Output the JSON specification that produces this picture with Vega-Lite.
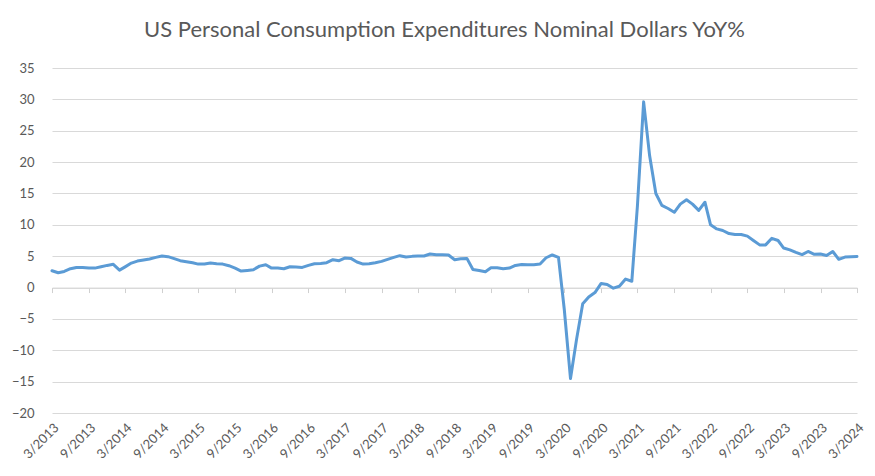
{
  "$schema": "https://vega.github.io/schema/vega-lite/v6.json",
  "width": 805,
  "height": 345,
  "autosize": {"type": "none"},
  "padding": {"left": 52, "top": 68, "right": 18, "bottom": 63},
  "background": "white",
  "title": {
    "text": "US Personal Consumption Expenditures Nominal Dollars YoY%",
    "font": "Lato",
    "fontSize": 22,
    "fontWeight": "normal",
    "color": "#595959",
    "anchor": "middle",
    "dx": -10,
    "offset": 3,
    "baseline": "alphabetic"
  },
  "config": {"view": {"stroke": null}, "font": "Lato"},
  "data": {
    "values": [
      {"month": "2013/03/01", "yoy": 2.68}, {"month": "2013/04/01", "yoy": 2.36}, {"month": "2013/05/01", "yoy": 2.57},
      {"month": "2013/06/01", "yoy": 3.0}, {"month": "2013/07/01", "yoy": 3.21}, {"month": "2013/08/01", "yoy": 3.21},
      {"month": "2013/09/01", "yoy": 3.1}, {"month": "2013/10/01", "yoy": 3.1}, {"month": "2013/11/01", "yoy": 3.32},
      {"month": "2013/12/01", "yoy": 3.53}, {"month": "2014/01/01", "yoy": 3.7}, {"month": "2014/02/01", "yoy": 2.78},
      {"month": "2014/03/01", "yoy": 3.3}, {"month": "2014/04/01", "yoy": 3.9}, {"month": "2014/05/01", "yoy": 4.22},
      {"month": "2014/06/01", "yoy": 4.39}, {"month": "2014/07/01", "yoy": 4.55}, {"month": "2014/08/01", "yoy": 4.81},
      {"month": "2014/09/01", "yoy": 5.03}, {"month": "2014/10/01", "yoy": 4.92}, {"month": "2014/11/01", "yoy": 4.6},
      {"month": "2014/12/01", "yoy": 4.28}, {"month": "2015/01/01", "yoy": 4.12}, {"month": "2015/02/01", "yoy": 3.96},
      {"month": "2015/03/01", "yoy": 3.74}, {"month": "2015/04/01", "yoy": 3.74}, {"month": "2015/05/01", "yoy": 3.9},
      {"month": "2015/06/01", "yoy": 3.8}, {"month": "2015/07/01", "yoy": 3.74}, {"month": "2015/08/01", "yoy": 3.48},
      {"month": "2015/09/01", "yoy": 3.1}, {"month": "2015/10/01", "yoy": 2.62}, {"month": "2015/11/01", "yoy": 2.73},
      {"month": "2015/12/01", "yoy": 2.84}, {"month": "2016/01/01", "yoy": 3.42}, {"month": "2016/02/01", "yoy": 3.64},
      {"month": "2016/03/01", "yoy": 3.1}, {"month": "2016/04/01", "yoy": 3.1}, {"month": "2016/05/01", "yoy": 3.0},
      {"month": "2016/06/01", "yoy": 3.32}, {"month": "2016/07/01", "yoy": 3.26}, {"month": "2016/08/01", "yoy": 3.21},
      {"month": "2016/09/01", "yoy": 3.53}, {"month": "2016/10/01", "yoy": 3.8}, {"month": "2016/11/01", "yoy": 3.85},
      {"month": "2016/12/01", "yoy": 3.96}, {"month": "2017/01/01", "yoy": 4.44}, {"month": "2017/02/01", "yoy": 4.28},
      {"month": "2017/03/01", "yoy": 4.7}, {"month": "2017/04/01", "yoy": 4.65}, {"month": "2017/05/01", "yoy": 4.07},
      {"month": "2017/06/01", "yoy": 3.74}, {"month": "2017/07/01", "yoy": 3.8}, {"month": "2017/08/01", "yoy": 3.96},
      {"month": "2017/09/01", "yoy": 4.17}, {"month": "2017/10/01", "yoy": 4.49}, {"month": "2017/11/01", "yoy": 4.81},
      {"month": "2017/12/01", "yoy": 5.08}, {"month": "2018/01/01", "yoy": 4.86}, {"month": "2018/02/01", "yoy": 4.97},
      {"month": "2018/03/01", "yoy": 5.03}, {"month": "2018/04/01", "yoy": 5.03}, {"month": "2018/05/01", "yoy": 5.35},
      {"month": "2018/06/01", "yoy": 5.24}, {"month": "2018/07/01", "yoy": 5.24}, {"month": "2018/08/01", "yoy": 5.19},
      {"month": "2018/09/01", "yoy": 4.44}, {"month": "2018/10/01", "yoy": 4.6}, {"month": "2018/11/01", "yoy": 4.65},
      {"month": "2018/12/01", "yoy": 2.89}, {"month": "2019/01/01", "yoy": 2.73}, {"month": "2019/02/01", "yoy": 2.52},
      {"month": "2019/03/01", "yoy": 3.16}, {"month": "2019/04/01", "yoy": 3.16}, {"month": "2019/05/01", "yoy": 3.0},
      {"month": "2019/06/01", "yoy": 3.1}, {"month": "2019/07/01", "yoy": 3.53}, {"month": "2019/08/01", "yoy": 3.69},
      {"month": "2019/09/01", "yoy": 3.64}, {"month": "2019/10/01", "yoy": 3.64}, {"month": "2019/11/01", "yoy": 3.75},
      {"month": "2019/12/01", "yoy": 4.75}, {"month": "2020/01/01", "yoy": 5.19}, {"month": "2020/02/01", "yoy": 4.81},
      {"month": "2020/03/01", "yoy": -3.5}, {"month": "2020/04/01", "yoy": -14.5}, {"month": "2020/05/01", "yoy": -8.3},
      {"month": "2020/06/01", "yoy": -2.6}, {"month": "2020/07/01", "yoy": -1.5}, {"month": "2020/08/01", "yoy": -0.8},
      {"month": "2020/09/01", "yoy": 0.65}, {"month": "2020/10/01", "yoy": 0.5}, {"month": "2020/11/01", "yoy": -0.1},
      {"month": "2020/12/01", "yoy": 0.2}, {"month": "2021/01/01", "yoy": 1.35}, {"month": "2021/02/01", "yoy": 1.0},
      {"month": "2021/03/01", "yoy": 13.0}, {"month": "2021/04/01", "yoy": 29.6}, {"month": "2021/05/01", "yoy": 21.0},
      {"month": "2021/06/01", "yoy": 15.0}, {"month": "2021/07/01", "yoy": 13.1}, {"month": "2021/08/01", "yoy": 12.6},
      {"month": "2021/09/01", "yoy": 12.0}, {"month": "2021/10/01", "yoy": 13.3}, {"month": "2021/11/01", "yoy": 14.0},
      {"month": "2021/12/01", "yoy": 13.3}, {"month": "2022/01/01", "yoy": 12.3}, {"month": "2022/02/01", "yoy": 13.6},
      {"month": "2022/03/01", "yoy": 10.0}, {"month": "2022/04/01", "yoy": 9.35}, {"month": "2022/05/01", "yoy": 9.1},
      {"month": "2022/06/01", "yoy": 8.6}, {"month": "2022/07/01", "yoy": 8.45}, {"month": "2022/08/01", "yoy": 8.45},
      {"month": "2022/09/01", "yoy": 8.2}, {"month": "2022/10/01", "yoy": 7.5}, {"month": "2022/11/01", "yoy": 6.8},
      {"month": "2022/12/01", "yoy": 6.8}, {"month": "2023/01/01", "yoy": 7.85}, {"month": "2023/02/01", "yoy": 7.5},
      {"month": "2023/03/01", "yoy": 6.3}, {"month": "2023/04/01", "yoy": 6.0}, {"month": "2023/05/01", "yoy": 5.6},
      {"month": "2023/06/01", "yoy": 5.25}, {"month": "2023/07/01", "yoy": 5.75}, {"month": "2023/08/01", "yoy": 5.3},
      {"month": "2023/09/01", "yoy": 5.35}, {"month": "2023/10/01", "yoy": 5.1}, {"month": "2023/11/01", "yoy": 5.75},
      {"month": "2023/12/01", "yoy": 4.5}, {"month": "2024/01/01", "yoy": 4.85}, {"month": "2024/02/01", "yoy": 4.9},
      {"month": "2024/03/01", "yoy": 4.95}
    ]
  },
  "encoding": {
    "y": {
      "field": "yoy",
      "type": "quantitative",
      "scale": {"domain": [-20, 35], "nice": false, "zero": false},
      "axis": {
        "title": null,
        "values": [-20, -15, -10, -5, 0, 5, 10, 15, 20, 25, 30, 35],
        "labelOverlap": false,
        "grid": true,
        "gridColor": "#d9d9d9",
        "gridWidth": 1,
        "domain": false,
        "ticks": false,
        "labelPadding": 18,
        "labelFont": "Lato",
        "labelFontSize": 13,
        "labelColor": "#595959"
      }
    }
  },
  "layer": [
    {
      "mark": {"type": "line", "strokeOpacity": 0},
      "encoding": {
        "x": {
          "field": "month",
          "type": "temporal",
          "scale": {"domain": [{"year": 2013, "month": 3, "date": 1}, {"year": 2024, "month": 3, "date": 1}], "nice": false},
          "axis": {
            "orient": "bottom",
            "offset": -125.45,
            "title": null,
            "labels": false,
            "grid": false,
            "domain": true,
            "domainColor": "#d9d9d9",
            "ticks": true,
            "tickSize": 5,
            "tickColor": "#d0d0d0",
            "values": [
              {"year": 2013, "month": 3, "date": 1}, {"year": 2013, "month": 9, "date": 1},
              {"year": 2014, "month": 3, "date": 1}, {"year": 2014, "month": 9, "date": 1},
              {"year": 2015, "month": 3, "date": 1}, {"year": 2015, "month": 9, "date": 1},
              {"year": 2016, "month": 3, "date": 1}, {"year": 2016, "month": 9, "date": 1},
              {"year": 2017, "month": 3, "date": 1}, {"year": 2017, "month": 9, "date": 1},
              {"year": 2018, "month": 3, "date": 1}, {"year": 2018, "month": 9, "date": 1},
              {"year": 2019, "month": 3, "date": 1}, {"year": 2019, "month": 9, "date": 1},
              {"year": 2020, "month": 3, "date": 1}, {"year": 2020, "month": 9, "date": 1},
              {"year": 2021, "month": 3, "date": 1}, {"year": 2021, "month": 9, "date": 1},
              {"year": 2022, "month": 3, "date": 1}, {"year": 2022, "month": 9, "date": 1},
              {"year": 2023, "month": 3, "date": 1}, {"year": 2023, "month": 9, "date": 1},
              {"year": 2024, "month": 3, "date": 1}
            ]
          }
        }
      }
    },
    {
      "mark": {"type": "line", "color": "#5B9BD5", "strokeWidth": 3, "strokeCap": "round", "strokeJoin": "round"},
      "encoding": {
        "x": {
          "field": "month",
          "type": "temporal",
          "axis": {
            "orient": "bottom",
            "title": null,
            "grid": false,
            "domain": false,
            "ticks": false,
            "labelOverlap": false,
            "labelAngle": -45,
            "labelPadding": 8,
            "labelFont": "Lato",
            "labelFontSize": 13,
            "labelColor": "#595959",
            "format": "%-m/%Y",
            "values": [
              {"year": 2013, "month": 3, "date": 1}, {"year": 2013, "month": 9, "date": 1},
              {"year": 2014, "month": 3, "date": 1}, {"year": 2014, "month": 9, "date": 1},
              {"year": 2015, "month": 3, "date": 1}, {"year": 2015, "month": 9, "date": 1},
              {"year": 2016, "month": 3, "date": 1}, {"year": 2016, "month": 9, "date": 1},
              {"year": 2017, "month": 3, "date": 1}, {"year": 2017, "month": 9, "date": 1},
              {"year": 2018, "month": 3, "date": 1}, {"year": 2018, "month": 9, "date": 1},
              {"year": 2019, "month": 3, "date": 1}, {"year": 2019, "month": 9, "date": 1},
              {"year": 2020, "month": 3, "date": 1}, {"year": 2020, "month": 9, "date": 1},
              {"year": 2021, "month": 3, "date": 1}, {"year": 2021, "month": 9, "date": 1},
              {"year": 2022, "month": 3, "date": 1}, {"year": 2022, "month": 9, "date": 1},
              {"year": 2023, "month": 3, "date": 1}, {"year": 2023, "month": 9, "date": 1},
              {"year": 2024, "month": 3, "date": 1}
            ]
          }
        }
      }
    }
  ],
  "resolve": {"axis": {"x": "independent"}}
}
